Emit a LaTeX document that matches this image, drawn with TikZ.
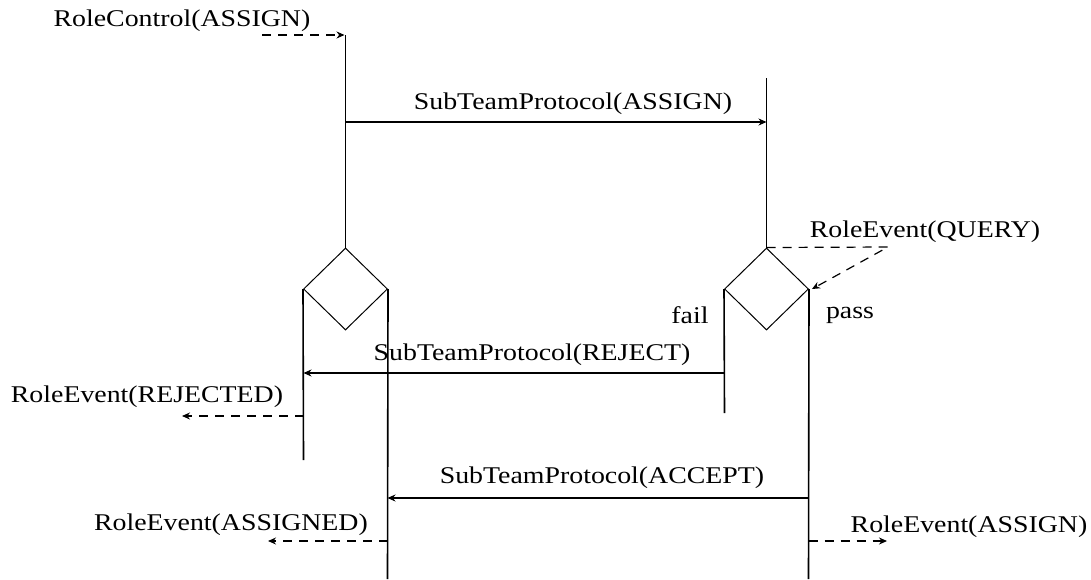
\documentclass[tikz,border=0pt]{standalone}
\usepackage{fontspec}
\setmainfont{Liberation Serif}[FakeStretch=1.16]
\usetikzlibrary{arrows.meta}
\usetikzlibrary{shapes.geometric}
\usetikzlibrary{positioning}
\tikzset{
  choice/.style = {diamond, draw, inner sep=0pt, line width=1pt,
    minimum width=84pt, minimum height=82pt},% noeud de decision
  life/.style = {line width=1.6pt},% ligne de vie
  msg/.style = {life, -{Stealth[length=8pt,width=7pt]}},% message
  evt/.style = {line width=1.2pt, dash pattern=on 9pt off 7pt,
    -{Stealth[length=8pt,width=7pt]}},% evenement
  lbl/.style = {inner sep=0pt, font=\fontsize{24}{26}\selectfont}
}

\begin{document}
\begin{tikzpicture}[x=1pt,y=-1pt]
\useasboundingbox (0,0) rectangle (1091,579);

\node [choice] (dA) at (345.5,289) {};
\node [choice] (dB) at (766.5,289) {};

\coordinate (a0) at (345.5,35);
\coordinate (b0) at (766.5,78);
\coordinate (aF) at (303.5,460);
\coordinate (aP) at (387.5,579);
\coordinate (bF) at (724.5,413);
\coordinate (bP) at (808.5,579);

\draw [life] (a0) -- (dA.north);
\draw [life] (b0) -- (dB.north);
\draw [life] (dA.west) -- (aF);
\draw [life] (dA.east) -- (aP);
\draw [life] (dB.west) -- (bF);
\draw [life] (dB.east) -- (bP);

% messages
\coordinate (m1s) at (345.5,122);
\coordinate (m1e) at (766.5,122);
\coordinate (m2s) at (724.5,373);
\coordinate (m2e) at (303.5,373);
\coordinate (m3s) at (808.5,498);
\coordinate (m3e) at (387.5,498);
\draw [msg] (m1s) -- (m1e);
\draw [msg] (m2s) -- (m2e);
\draw [msg] (m3s) -- (m3e);
\node [lbl] (tAssign) at (573,104) {SubTeamProtocol(ASSIGN)};
\node [lbl] (tReject) at (532,355) {SubTeamProtocol(REJECT)};
\node [lbl] (tAccept) at (602,478) {SubTeamProtocol(ACCEPT)};

\node [lbl] (fail) at (690,315) {fail};
\node [lbl] (pass) at (850,315) {pass};

% evenements
\node [lbl] (rc) at (182,21) {RoleControl(ASSIGN)};
\node [lbl] (rq) at (925,232) {RoleEvent(QUERY)};
\node [lbl] (rr) at (147,397) {RoleEvent(REJECTED)};
\node [lbl] (ra) at (231,525) {RoleEvent(ASSIGNED)};
\node [lbl] (rs) at (969,527) {RoleEvent(ASSIGN)};

\coordinate (e1) at (262,35);
\coordinate (e2) at (888,247);
\coordinate (e3s) at (303.5,416);
\coordinate (e3e) at (182,416);
\coordinate (e4s) at (387.5,541);
\coordinate (e4e) at (268,541);
\coordinate (e5s) at (808.5,541);
\coordinate (e5e) at (887,541);

\draw [evt] (e1) -- ([xshift=-1pt]a0);
\draw [evt] (dB.north) -- (e2) -- ([xshift=3pt]dB.east);
\draw [evt] (e3s) -- (e3e);
\draw [evt] (e4s) -- (e4e);
\draw [evt] (e5s) -- (e5e);
\end{tikzpicture}
\end{document}
